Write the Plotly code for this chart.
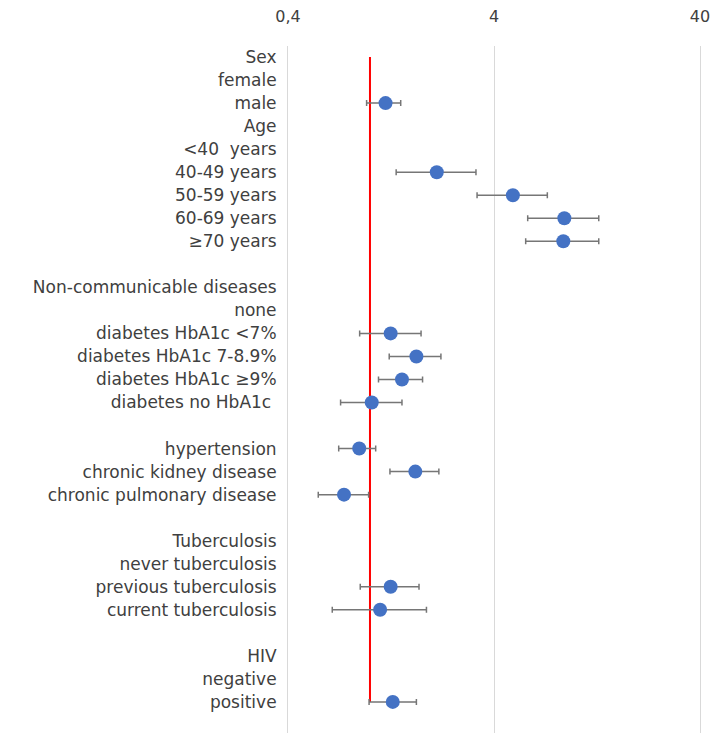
import plotly.graph_objects as go

# Row labels, top to bottom (empty strings are spacer rows)
labels = [
    "Sex", "female", "male",
    "Age", "<40  years", "40-49 years", "50-59 years", "60-69 years", "≥70 years",
    "",
    "Non-communicable diseases", "none", "diabetes HbA1c <7%", "diabetes HbA1c 7-8.9%",
    "diabetes HbA1c ≥9%", "diabetes no HbA1c ",
    "",
    "hypertension", "chronic kidney disease", "chronic pulmonary disease",
    "",
    "Tuberculosis", "never tuberculosis", "previous tuberculosis", "current tuberculosis",
    "",
    "HIV", "negative", "positive",
]

# Estimates with 95% CI (rows without a value are headers / reference groups)
est_rows = ["male", "40-49 years", "50-59 years", "60-69 years", "≥70 years",
            "diabetes HbA1c <7%", "diabetes HbA1c 7-8.9%", "diabetes HbA1c ≥9%",
            "diabetes no HbA1c ", "hypertension", "chronic kidney disease",
            "chronic pulmonary disease", "previous tuberculosis",
            "current tuberculosis", "positive"]
est = [1.19, 2.11, 4.94, 8.78, 8.68,
       1.26, 1.68, 1.43, 1.02, 0.887, 1.66, 0.748,
       1.26, 1.12, 1.29]
ci_low = [0.963, 1.34, 3.31, 5.83, 5.70,
          0.891, 1.24, 1.10, 0.72, 0.705, 1.25, 0.561,
          0.897, 0.656, 0.99]
ci_high = [1.41, 3.27, 7.26, 12.9, 12.9,
           1.77, 2.21, 1.80, 1.43, 1.066, 2.16, 0.985,
           1.73, 1.88, 1.68]

tick_vals = [0.4, 4, 40]
tick_text = ["0,4", "4", "40"]

row_of = {}
for i, lab in enumerate(labels):
    if lab and lab not in row_of:
        row_of[lab] = i
ys = [row_of[r] for r in est_rows]

fig = go.Figure()

# Reference line at 1
fig.add_trace(go.Scatter(
    x=[1, 1], y=[0, len(labels) - 1], mode="lines",
    line=dict(color="#FF0000", width=2), hoverinfo="skip", showlegend=False,
))

fig.add_trace(go.Scatter(
    x=est, y=ys, mode="markers",
    marker=dict(size=14, color="#4472C4"),
    error_x=dict(
        type="data", symmetric=False,
        array=[h - e for h, e in zip(ci_high, est)],
        arrayminus=[e - l for e, l in zip(est, ci_low)],
        color="#767676", thickness=1.5, width=3,
    ),
    showlegend=False,
))

fig.update_layout(
    width=713, height=733,
    margin=dict(l=288, r=13, t=46, b=0),
    paper_bgcolor="white", plot_bgcolor="white",
    font=dict(family="DejaVu Sans", size=17, color="#404040"),
    xaxis=dict(
        type="log", side="top",
        range=[-0.39794, 1.60206],
        tickvals=tick_vals, ticktext=tick_text,
        showgrid=True, gridcolor="#D9D9D9", gridwidth=1,
        zeroline=False, showline=False,
        ticks="outside", ticklen=4, tickcolor="rgba(0,0,0,0)",
        ticklabelstandoff=13,
        tickfont=dict(size=16, color="#404040"),
    ),
    yaxis=dict(
        range=[29.35, -0.48],
        tickvals=list(range(len(labels))), ticktext=labels,
        showgrid=False, zeroline=False,
        showline=True, mirror=True, linecolor="#D9D9D9", linewidth=1,
        ticks="", ticklabelstandoff=7,
        tickfont=dict(size=17, color="#404040"),
    ),
)

fig.write_html("out.html")
